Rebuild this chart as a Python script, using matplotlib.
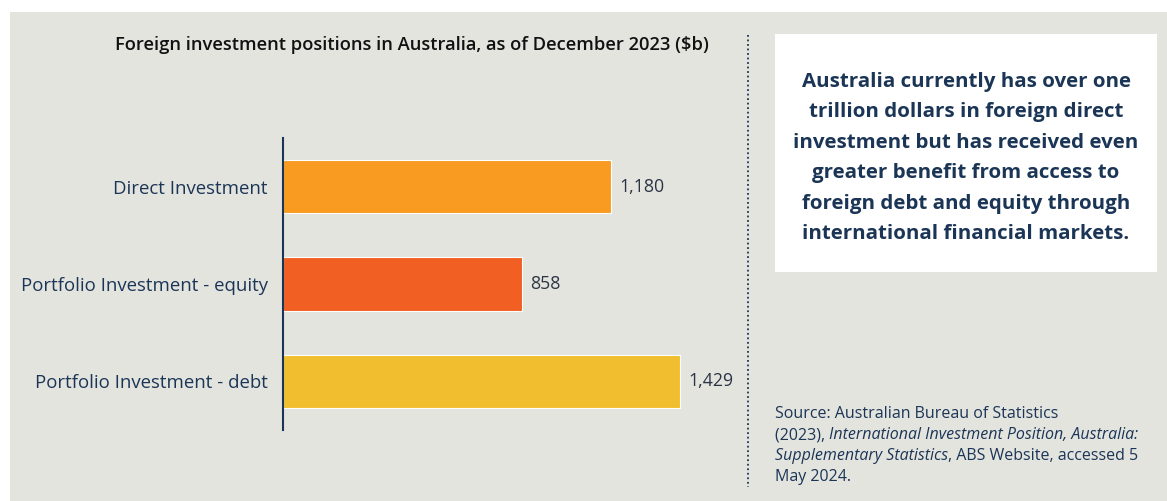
import matplotlib.pyplot as plt
from matplotlib.patches import Rectangle
from matplotlib.lines import Line2D
from matplotlib.text import Annotation

categories = ['Direct Investment', 'Portfolio Investment - equity', 'Portfolio Investment - debt']
values = [1180, 858, 1429]
value_labels = ['1,180', '858', '1,429']
bar_colors = ['#F89B20', '#F15F22', '#F0BE2E']

title = 'Foreign investment positions in Australia, as of December 2023 ($b)'
callout = ('Australia currently has over one\ntrillion dollars in foreign direct\n'
           'investment but has received even\ngreater benefit from access to\n'
           'foreign debt and equity through\ninternational financial markets.')

navy = '#1B3556'
plt.rcParams['font.family'] = ['Open Sans', 'DejaVu Sans']

fig = plt.figure(figsize=(11.67, 5.01), dpi=100)
fig.patch.set_facecolor('white')

# grey panel behind everything
fig.patches.append(Rectangle((10 / 1167, 0), 1 - 10 / 1167, 1 - 12 / 501,
                             transform=fig.transFigure, facecolor='#E4E4DF',
                             edgecolor='none', zorder=-10))

ax = fig.add_axes([283 / 1167, 71 / 501, 445 / 1167, 292 / 501])
ax.set_facecolor('none')
ax.barh(range(len(values)), values, height=0.55, color=bar_colors,
        edgecolor='white', linewidth=0.8)
ax.set_ylim(2.5, -0.5)
ax.set_xlim(0, 1600)
for i, (v, lab) in enumerate(zip(values, value_labels)):
    ax.text(v + 30, i, lab, va='center', ha='left', fontsize=12.8, color='#2A3442')
ax.set_yticks(range(len(categories)))
ax.set_yticklabels(categories, fontsize=13.4, color=navy)
ax.tick_params(axis='y', length=0, pad=11)
ax.set_xticks([])
for s in ['top', 'right', 'bottom']:
    ax.spines[s].set_visible(False)
ax.spines['left'].set_color(navy)
ax.spines['left'].set_linewidth(1.5)

fig.text(412 / 1167, 1 - 45 / 501, title, ha='center', va='center',
         fontsize=13.2, fontweight='semibold', color='#111111')

# dotted divider
fig.add_artist(Line2D([748 / 1167, 748 / 1167], [1 - 35 / 501, 1 - 487 / 501],
                      transform=fig.transFigure, color=navy, linestyle=(0, (1, 1.5)),
                      linewidth=1.3))

# callout box
fig.add_artist(Rectangle((775 / 1167, 1 - 272 / 501), 382 / 1167, 238 / 501,
                         transform=fig.transFigure, facecolor='white', edgecolor='none'))
fig.text(966 / 1167, 1 - 158 / 501, callout, ha='center', va='center',
         fontsize=14.75, fontweight='bold', color=navy, linespacing=1.7)

# source note with italic titles
fs = 11.5
t1 = fig.text(775 / 1167, 1 - 414 / 501, 'Source: Australian Bureau of Statistics',
              ha='left', va='center', fontsize=fs, color=navy)
t2 = fig.text(775 / 1167, 1 - 435 / 501, '(2023), ', ha='left', va='center',
              fontsize=fs, color=navy)
fig.add_artist(Annotation('International Investment Position, Australia:',
                          xy=(1, 0), xycoords=t2, va='bottom', ha='left',
                          fontsize=fs, color=navy, style='italic'))
t3 = fig.text(775 / 1167, 1 - 456 / 501, 'Supplementary Statistics', ha='left',
              va='center', fontsize=fs, color=navy, style='italic')
fig.add_artist(Annotation(', ABS Website, accessed 5', xy=(1, 0), xycoords=t3,
                          va='bottom', ha='left', fontsize=fs, color=navy))
fig.text(775 / 1167, 1 - 477 / 501, 'May 2024.', ha='left', va='center',
         fontsize=fs, color=navy)

fig.savefig('out.png', dpi=100)
